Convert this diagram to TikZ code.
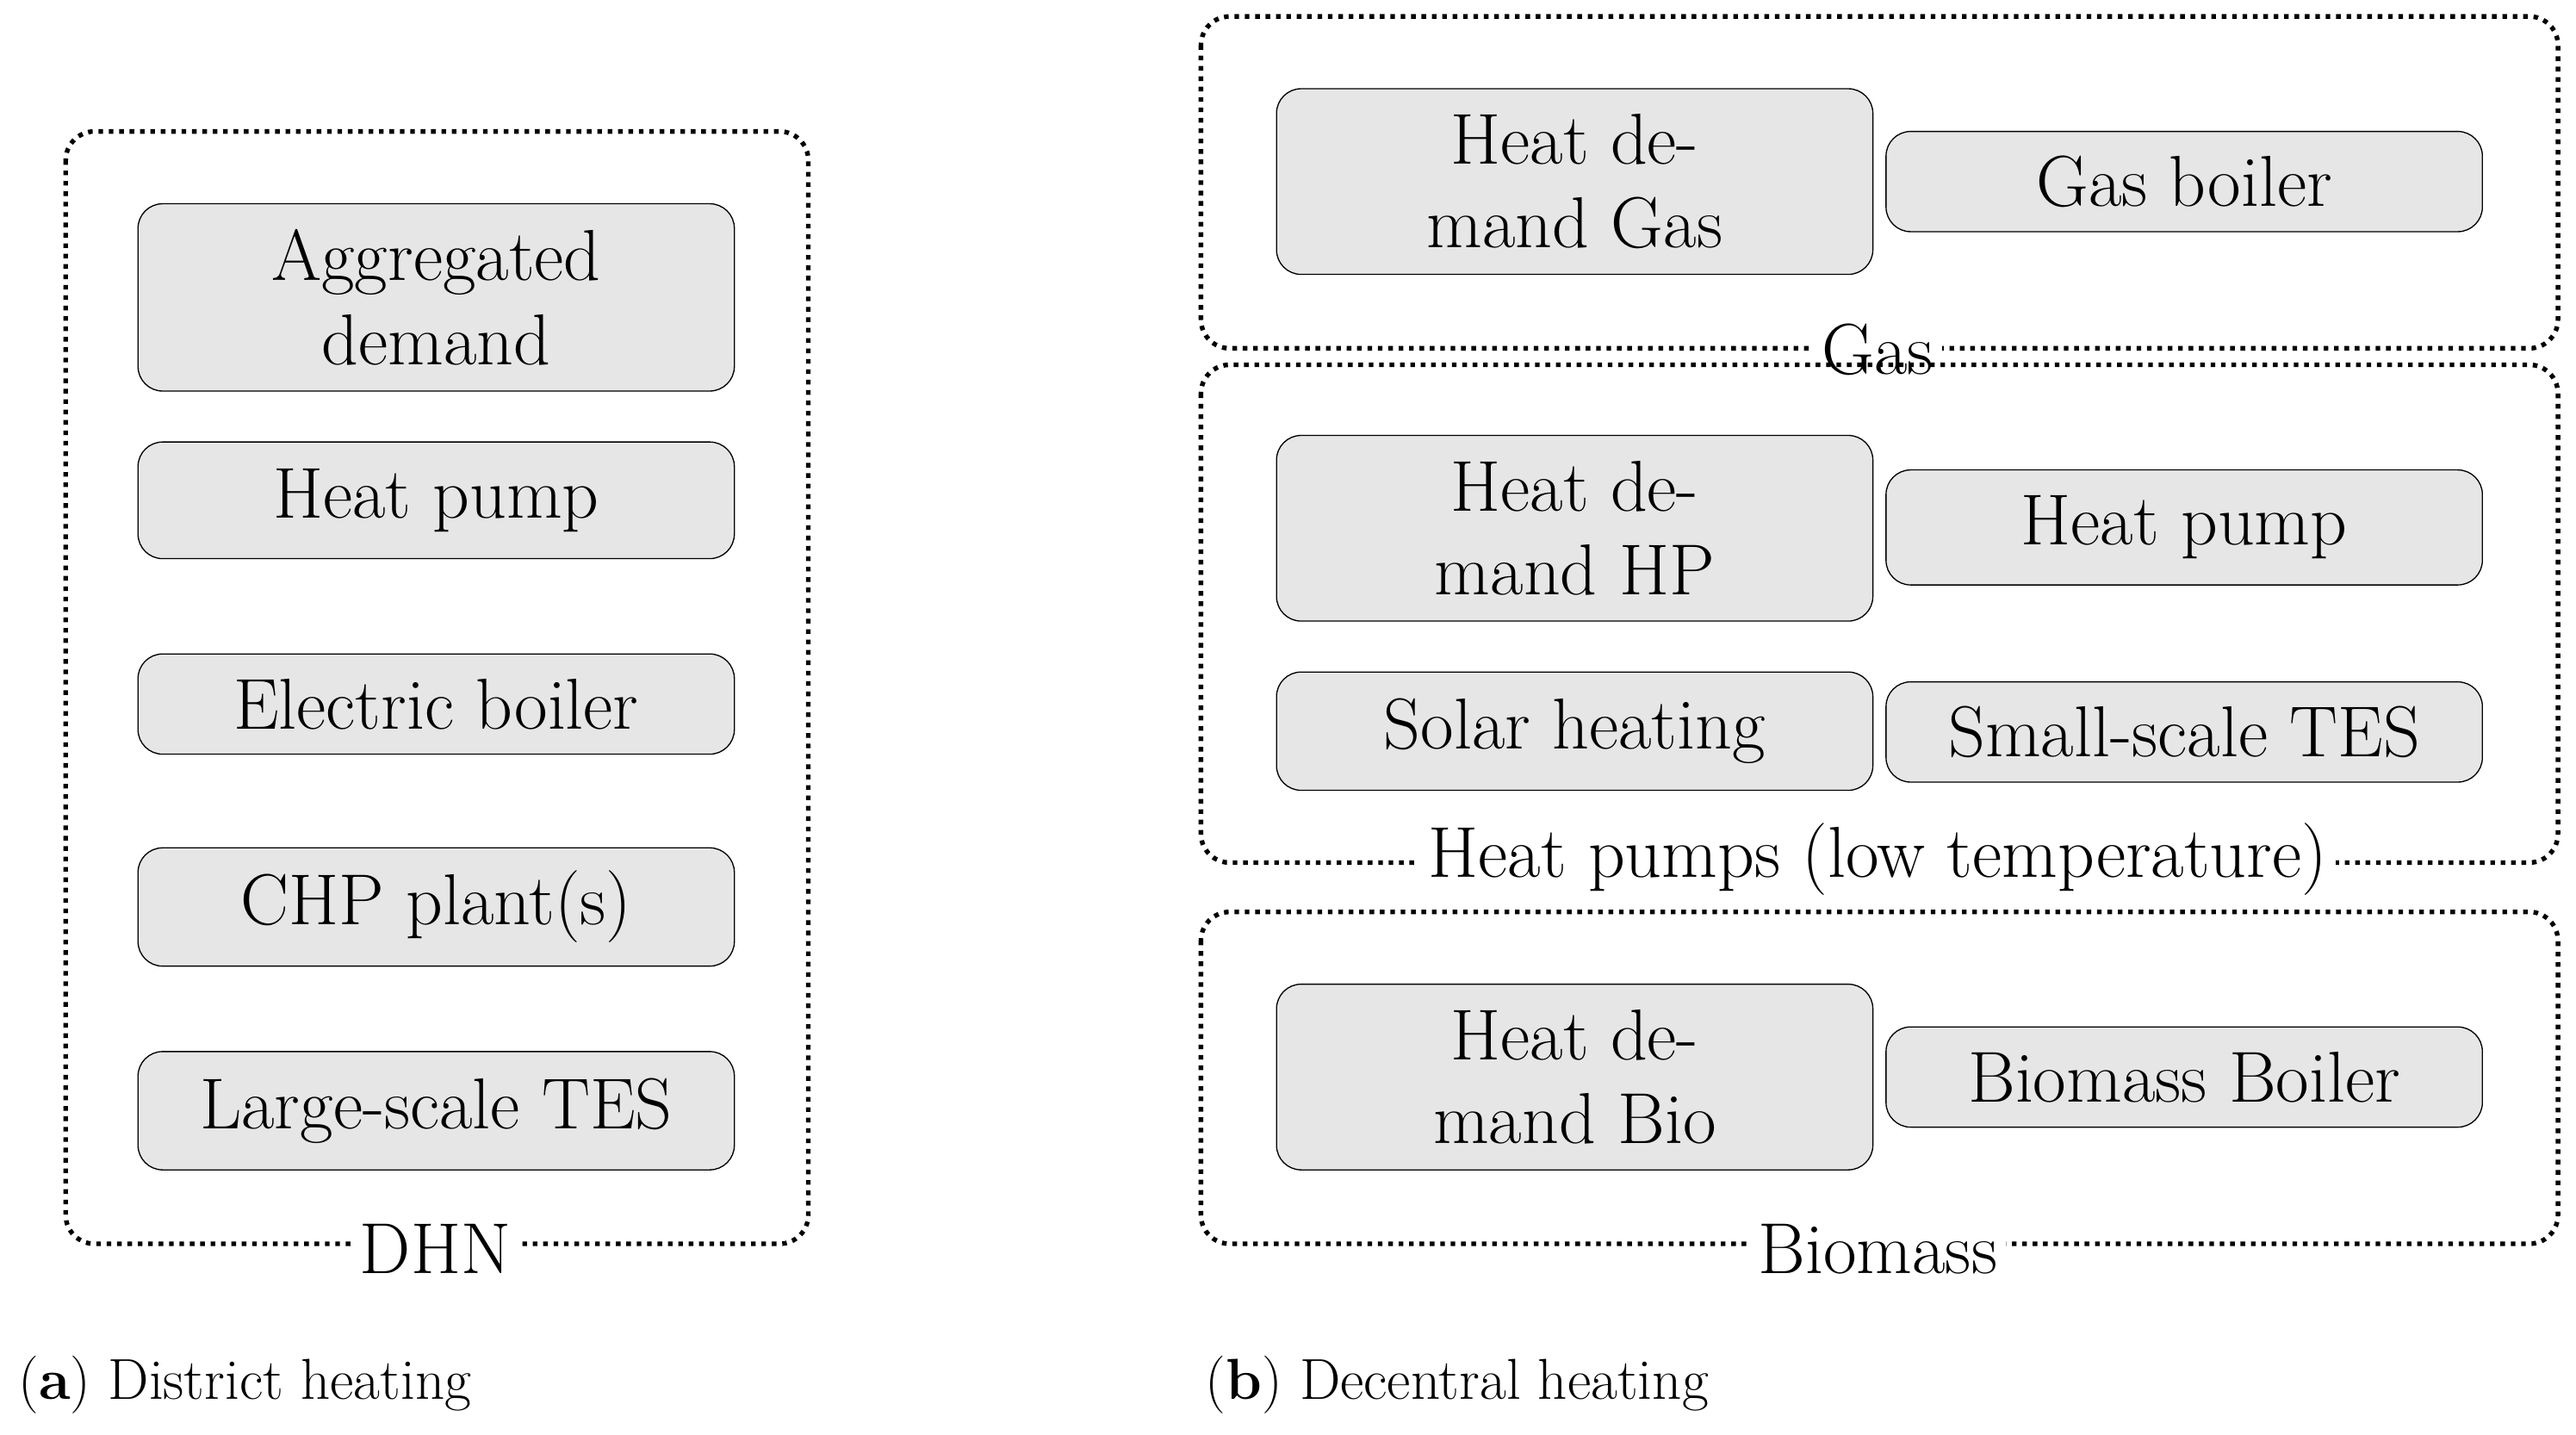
\documentclass[tikz,border=0pt]{standalone}
\usepackage{tikz}
\usetikzlibrary{positioning}
\definecolor{boxgray}{HTML}{E6E6E6}
\tikzset{
    unit/.style={draw, rounded corners=0.3cm, fill=boxgray, minimum width=7.26cm,
        align=center, font=\fontsize{25}{29}\selectfont, inner sep=2pt},
    group/.style={draw, dotted, line width=1.6pt, rounded corners=0.35cm},
    grouplabel/.style={fill=white, inner sep=3pt, font=\fontsize{25}{29}\selectfont},
    caption/.style={anchor=west, font=\fontsize{20}{24}\selectfont}
}
\begin{document}
\begin{tikzpicture}
    \useasboundingbox (0,0) rectangle (31.36,-17.46);
    % district heating
    \draw[group] (0.80,-1.60) rectangle (9.84,-15.14);
    \node[grouplabel] (dhn) at (5.30,-15.20) {DHN};
    \node[unit, minimum height=2.28cm] (agg) at (5.31,-3.62) {Aggregated\\demand};
    \node[unit, minimum height=1.42cm] (hp) at (5.31,-6.09) {Heat pump};
    \node[unit, minimum height=1.22cm] (eb) at (5.31,-8.57) {Electric boiler};
    \node[unit, minimum height=1.44cm] (chp) at (5.31,-11.04) {CHP plant(s)};
    \node[unit, minimum height=1.44cm] (ltes) at (5.31,-13.52) {Large-scale TES};
    % decentral heating
    \draw[group] (14.62,-0.20) rectangle (31.14,-4.24);
    \node[grouplabel] (gas) at (22.86,-4.26) {Gas};
    \node[unit, minimum height=2.26cm] (hdgas) at (19.17,-2.21) {Heat de-\\mand Gas};
    \node[unit, minimum height=1.22cm] (gb) at (26.59,-2.21) {Gas boiler};
    \draw[group] (14.62,-4.44) rectangle (31.14,-10.50);
    \node[grouplabel] (hplow) at (22.86,-10.46) {Heat pumps (low temperature)};
    \node[unit, minimum height=2.26cm] (hdhp) at (19.17,-6.43) {Heat de-\\mand HP};
    \node[unit, minimum height=1.40cm] (dhp) at (26.59,-6.42) {Heat pump};
    \node[unit, minimum height=1.44cm] (solar) at (19.17,-8.90) {Solar heating};
    \node[unit, minimum height=1.22cm] (stes) at (26.59,-8.91) {Small-scale TES};
    \draw[group] (14.62,-11.10) rectangle (31.14,-15.14);
    \node[grouplabel] (bio) at (22.86,-15.20) {Biomass};
    \node[unit, minimum height=2.26cm] (hdbio) at (19.17,-13.11) {Heat de-\\mand Bio};
    \node[unit, minimum height=1.22cm] (bb) at (26.59,-13.11) {Biomass Boiler};
    % captions
    \node[caption] (capa) at (0.10,-16.86) {(\textbf{a}) District heating};
    \node[caption] (capb) at (14.55,-16.86) {(\textbf{b}) Decentral heating};
\end{tikzpicture}
\end{document}
